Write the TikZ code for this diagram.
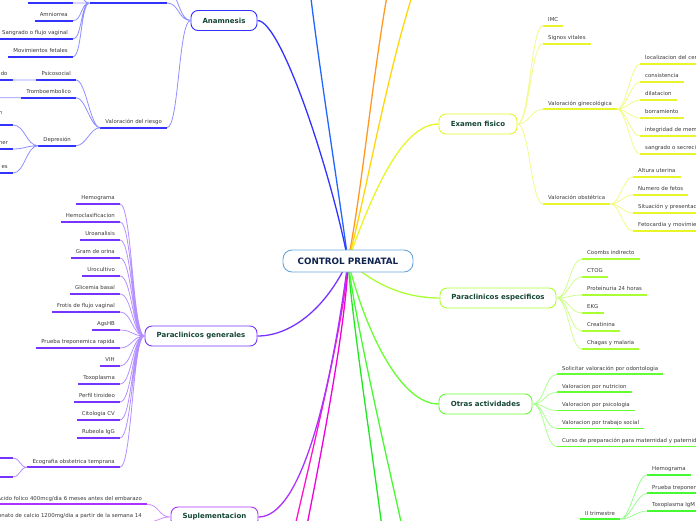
\documentclass[tikz,border=0pt]{standalone}
\usepackage{fontspec}
\setmainfont{DejaVu Sans}
\usetikzlibrary{calc,backgrounds}
\definecolor{rootEdge}{RGB}{106,166,220}
\definecolor{rootText}{RGB}{16,36,80}
\definecolor{boxText}{RGB}{20,70,52}
\definecolor{leafText}{RGB}{58,58,58}
\definecolor{brTopBlue}{RGB}{34,102,255}
\definecolor{brOrange}{RGB}{255,153,34}
\definecolor{brYellow}{RGB}{255,214,10}
\definecolor{brExam}{RGB}{232,245,40}
\definecolor{brAnam}{RGB}{51,51,255}
\definecolor{brPesp}{RGB}{170,255,51}
\definecolor{brOtras}{RGB}{102,255,51}
\definecolor{brGreenA}{RGB}{34,230,34}
\definecolor{brGreenB}{RGB}{70,250,50}
\definecolor{brMagA}{RGB}{255,20,200}
\definecolor{brMagB}{RGB}{240,0,220}
\definecolor{brPgen}{RGB}{119,51,255}
\definecolor{brSupl}{RGB}{170,51,255}

\begin{document}
\begin{tikzpicture}[
  x=1pt,y=1pt,
  root/.style={draw=rootEdge,fill=white,rounded corners=9pt,line width=0.9pt,
               minimum width=130pt,minimum height=22pt,
               font=\fontsize{8.8}{10}\selectfont\bfseries,text=rootText},
  topic/.style={draw=#1,fill=white,rounded corners=7pt,line width=0.9pt,
                minimum height=20pt,font=\fontsize{7}{8}\selectfont\bfseries,text=boxText},
  leaf/.style={font=\fontsize{5.4}{6}\selectfont,text=leafText,
               inner xsep=5pt,inner ysep=3pt,text height=4pt,text depth=1pt,
               append after command={(\tikzlastnode.south west)
                 edge[line width=1.8pt,draw=#1] (\tikzlastnode.south east)}},
  branch/.style={draw=#1,line width=1.3pt},
  twigL/.style={draw=#1!55,line width=0.8pt,out=180,in=0,distance=12pt},
  twigR/.style={draw=#1!55,line width=0.8pt,out=0,in=180,distance=12pt}
]
\useasboundingbox (0,0) rectangle (696,-520);
\clip (0,0) rectangle (696,-520);

% ==========  Main topics  ==========
\node[root] (root) at (348,-261) {CONTROL PRENATAL};
\node[topic=brAnam,minimum width=66pt]   (anam)  at (224,-20.5) {Anamnesis};
\node[topic=brExam,minimum width=78pt]   (exam)  at (478,-124) {Examen fisico};
\node[topic=brPesp,minimum width=116pt]  (pesp)  at (498,-298) {Paraclinicos especificos};
\node[topic=brOtras,minimum width=93pt]  (otras) at (485.5,-404) {Otras actividades};
\node[topic=brPgen,minimum width=112pt]  (pgen)  at (201,-336) {Paraclinicos generales};
\node[topic=brSupl,minimum width=87pt]   (supl)  at (214.5,-517) {Suplementacion};

% free ends of branches leaving the page
\coordinate (topBlue)   at (310,10);
\coordinate (topOrange) at (388,10);
\coordinate (topYellow) at (414,10);
\coordinate (botGreenA) at (383,-535);
\coordinate (botGreenB) at (404,-535);
\coordinate (botMagA)   at (293,-535);
\coordinate (botMagB)   at (305,-535);

% ==========  Branches (under the boxes)  ==========
\begin{pgfonlayer}{background}
  \draw[branch=brTopBlue] (root.center) .. controls (340,-200) and (318,-60) .. (topBlue);
  \draw[branch=brOrange]  (root.center) .. controls (362,-190) and (372,-80) .. (topOrange);
  \draw[branch=brYellow]  (root.center) .. controls (365,-200) and (385,-80) .. (topYellow);
  \draw[branch=brExam]    (root.center) .. controls (370,-200) and (400,-124) .. (exam.west);
  \draw[branch=brAnam]    (root.center) .. controls (333,-180) and (282,-20.5) .. (anam.east);
  \draw[branch=brPesp]    (root.center) .. controls (375,-285) and (405,-298) .. (pesp.west);
  \draw[branch=brOtras]   (root.center) .. controls (365,-330) and (400,-404) .. (otras.west);
  \draw[branch=brGreenA]  (root.center) .. controls (352,-320) and (372,-450) .. (botGreenA);
  \draw[branch=brGreenB]  (root.center) .. controls (355,-320) and (385,-450) .. (botGreenB);
  \draw[branch=brMagA]    (root.center) .. controls (345,-320) and (310,-460) .. (botMagA);
  \draw[branch=brMagB]    (root.center) .. controls (347,-320) and (320,-460) .. (botMagB);
  \draw[branch=brPgen]    (root.center) .. controls (325,-310) and (290,-336) .. (pgen.east);
  \draw[branch=brSupl]    (root.center) .. controls (330,-400) and (300,-517) .. (supl.east);
\end{pgfonlayer}

% ==========  Anamnesis  ==========
\node[leaf=brAnam,anchor=south east,minimum width=77pt] (anTop)  at (167,-3) {};
\node[leaf=brAnam,anchor=south east,minimum width=45pt] (anTopA) at (73,-3) {};
\node[leaf=brAnam,anchor=south east] (amnio)   at (73,-20.7) {Amniorrea};
\node[leaf=brAnam,anchor=south east] (sangr)   at (73,-39) {Sangrado o flujo vaginal};
\node[leaf=brAnam,anchor=south east] (movfet)  at (73,-56.7) {Movimientos fetales};
\node[leaf=brAnam,anchor=south east] (vriesgo) at (167,-127.7) {Valoración del riesgo};
\node[leaf=brAnam,anchor=south east] (psico)   at (76,-80) {Psicosocial};
\node[leaf=brAnam,anchor=south east] (trombo)  at (76,-97.7) {Tromboembolico};
\node[leaf=brAnam,anchor=south east] (depre)   at (76,-145.7) {Depresión};
\node[leaf=brAnam,anchor=south east] (psicoA)  at (12.7,-80) {ado};
\node[leaf=brAnam,anchor=south east,text width=9pt,text depth=7.7pt] (depreA) at (13,-125) {n};
\node[leaf=brAnam,anchor=south east] (depreB)  at (13,-149) {ner};
\node[leaf=brAnam,anchor=south east] (depreC)  at (13,-173) {es};
\coordinate (anUp)    at (165,14);
\coordinate (anTopUp) at (72,14);
\coordinate (tromboA) at (-12,-97.7);

\draw[twigL=brAnam] (anam.west) to (anTop.south east)
                    (anam.west) to (vriesgo.south east)
                    (anam.west) to (anUp);
\draw[twigL=brAnam,distance=9pt]
  (anTop.south west) to (anTopA.south east)
  (anTop.south west) to (amnio.south east)
  (anTop.south west) to (sangr.south east)
  (anTop.south west) to (movfet.south east)
  (anTop.south west) to (anTopUp);
\draw[twigL=brAnam,distance=10pt]
  (vriesgo.south west) to (psico.south east)
  (vriesgo.south west) to (trombo.south east)
  (vriesgo.south west) to (depre.south east);
\draw[twigL=brAnam] (psico.south west) to (psicoA.south east)
                    (trombo.south west) to (tromboA)
                    (depre.south west) to (depreA.south east)
                    (depre.south west) to (depreB.south east)
                    (depre.south west) to (depreC.south east);

% ==========  Paraclinicos generales  ==========
\node[leaf=brPgen,anchor=south east] (hemo)   at (120,-204) {Hemograma};
\node[leaf=brPgen,anchor=south east] (hclas)  at (120,-222) {Hemoclasificacion};
\node[leaf=brPgen,anchor=south east] (uroan)  at (120,-240) {Uroanalisis};
\node[leaf=brPgen,anchor=south east] (gram)   at (120,-258) {Gram de orina};
\node[leaf=brPgen,anchor=south east] (urocul) at (120,-276) {Urocultivo};
\node[leaf=brPgen,anchor=south east] (glic)   at (120,-294) {Glicemia basal};
\node[leaf=brPgen,anchor=south east] (frotis) at (120,-312) {Frotis de flujo vaginal};
\node[leaf=brPgen,anchor=south east] (agshb)  at (120,-330) {AgsHB};
\node[leaf=brPgen,anchor=south east] (trepo)  at (120,-348) {Prueba treponemica rapida};
\node[leaf=brPgen,anchor=south east] (vih)    at (120,-366) {VIH};
\node[leaf=brPgen,anchor=south east] (toxo)   at (120,-384) {Toxoplasma};
\node[leaf=brPgen,anchor=south east] (tiro)   at (120,-402) {Perfil tiroideo};
\node[leaf=brPgen,anchor=south east] (cito)   at (120,-420) {Citologia CV};
\node[leaf=brPgen,anchor=south east] (rube)   at (120,-438) {Rubeola IgG};
\node[leaf=brPgen,anchor=south east] (ecog)   at (120,-467.3) {Ecografia obstetrica temprana};
\node[leaf=brPgen,anchor=south east,minimum width=30pt] (ecogA) at (13,-458.3) {};
\node[leaf=brPgen,anchor=south east,minimum width=30pt] (ecogB) at (13,-476.7) {};

\draw[twigL=brPgen]
  (pgen.west) to (hemo.south east)   (pgen.west) to (hclas.south east)
  (pgen.west) to (uroan.south east)  (pgen.west) to (gram.south east)
  (pgen.west) to (urocul.south east) (pgen.west) to (glic.south east)
  (pgen.west) to (frotis.south east) (pgen.west) to (agshb.south east)
  (pgen.west) to (trepo.south east)  (pgen.west) to (vih.south east)
  (pgen.west) to (toxo.south east)   (pgen.west) to (tiro.south east)
  (pgen.west) to (cito.south east)   (pgen.west) to (rube.south east)
  (pgen.west) to (ecog.south east);
\draw[twigL=brPgen,distance=8pt]
  (ecog.south west) to (ecogA.south east)
  (ecog.south west) to (ecogB.south east);

% ==========  Suplementacion  ==========
\node[leaf=brSupl,anchor=south east] (folico) at (147,-504.3)
  {Acido folico 400mcg/dia 6 meses antes del embarazo};
\node[leaf=brSupl,anchor=south east] (calcio) at (147,-522)
  {Carbonato de calcio 1200mg/dia a partir de la semana 14};
\draw[twigL=brSupl] (supl.west) to (folico.south east)
                    (supl.west) to (calcio.south east);

% ==========  Examen fisico  ==========
\node[leaf=brExam,anchor=south west] (imc)    at (543,-25.7) {IMC};
\node[leaf=brExam,anchor=south west] (signos) at (543,-43.7) {Signos vitales};
\node[leaf=brExam,anchor=south west] (vgine)  at (543,-109.3) {Valoración ginecológica};
\node[leaf=brExam,anchor=south west] (vobst)  at (543,-204) {Valoración obstétrica};
\node[leaf=brExam,anchor=south west] (cerv)   at (640,-64) {localizacion del cervix};
\node[leaf=brExam,anchor=south west] (consis) at (640,-82) {consistencia};
\node[leaf=brExam,anchor=south west] (dilat)  at (640,-100) {dilatacion};
\node[leaf=brExam,anchor=south west] (borra)  at (640,-118) {borramiento};
\node[leaf=brExam,anchor=south west] (membr)  at (640,-136) {integridad de membranas};
\node[leaf=brExam,anchor=south west] (secre)  at (640,-154) {sangrado o secrecion};
\node[leaf=brExam,anchor=south west] (altura) at (633,-177) {Altura uterina};
\node[leaf=brExam,anchor=south west] (nfetos) at (633,-195) {Numero de fetos};
\node[leaf=brExam,anchor=south west] (situa)  at (633,-213) {Situación y presentación};
\node[leaf=brExam,anchor=south west] (fetoc)  at (633,-231) {Fetocardia y movimientos fetales};

\draw[twigR=brExam]
  (exam.east) to (imc.south west)   (exam.east) to (signos.south west)
  (exam.east) to (vgine.south west) (exam.east) to (vobst.south west);
\draw[twigR=brExam,distance=9pt]
  (vgine.south east) to (cerv.south west)  (vgine.south east) to (consis.south west)
  (vgine.south east) to (dilat.south west) (vgine.south east) to (borra.south west)
  (vgine.south east) to (membr.south west) (vgine.south east) to (secre.south west);
\draw[twigR=brExam,distance=10pt]
  (vobst.south east) to (altura.south west) (vobst.south east) to (nfetos.south west)
  (vobst.south east) to (situa.south west)  (vobst.south east) to (fetoc.south west);

% ==========  Paraclinicos especificos  ==========
\node[leaf=brPesp,anchor=south west] (coombs) at (582,-259) {Coombs indirecto};
\node[leaf=brPesp,anchor=south west] (ctog)   at (582,-277) {CTOG};
\node[leaf=brPesp,anchor=south west] (protei) at (582,-295) {Proteinuria 24 horas};
\node[leaf=brPesp,anchor=south west] (ekg)    at (582,-313) {EKG};
\node[leaf=brPesp,anchor=south west] (creat)  at (582,-331) {Creatinina};
\node[leaf=brPesp,anchor=south west] (chagas) at (582,-349) {Chagas y malaria};
\draw[twigR=brPesp]
  (pesp.east) to (coombs.south west) (pesp.east) to (ctog.south west)
  (pesp.east) to (protei.south west) (pesp.east) to (ekg.south west)
  (pesp.east) to (creat.south west)  (pesp.east) to (chagas.south west);

% ==========  Otras actividades  ==========
\node[leaf=brOtras,anchor=south west] (odonto) at (557,-374.3) {Solicitar valoración por odontologia};
\node[leaf=brOtras,anchor=south west] (nutri)  at (557,-392.3) {Valoracion por nutricion};
\node[leaf=brOtras,anchor=south west] (psicol) at (557,-410.5) {Valoracion por psicologia};
\node[leaf=brOtras,anchor=south west] (tsocial) at (557,-428.5) {Valoracion por trabajo social};
\node[leaf=brOtras,anchor=south west] (curso)  at (557,-446.5) {Curso de preparación para maternidad y paternidad};
\draw[twigR=brOtras]
  (otras.east) to (odonto.south west) (otras.east) to (nutri.south west)
  (otras.east) to (psicol.south west) (otras.east) to (tsocial.south west)
  (otras.east) to (curso.south west);

% ==========  II trimestre  ==========
\node[leaf=brGreenB,anchor=south west] (trim2)  at (580,-519.3) {II trimestre};
\node[leaf=brGreenB,anchor=south west] (hemo2)  at (647,-475) {Hemograma};
\node[leaf=brGreenB,anchor=south west] (trepo2) at (647,-493.3) {Prueba treponemica rapida};
\node[leaf=brGreenB,anchor=south west] (toxo2)  at (647,-511) {Toxoplasma IgM};
\draw[twigR=brGreenB,distance=10pt]
  (trim2.south east) to (hemo2.south west)
  (trim2.south east) to (trepo2.south west)
  (trim2.south east) to (toxo2.south west);

\end{tikzpicture}
\end{document}
